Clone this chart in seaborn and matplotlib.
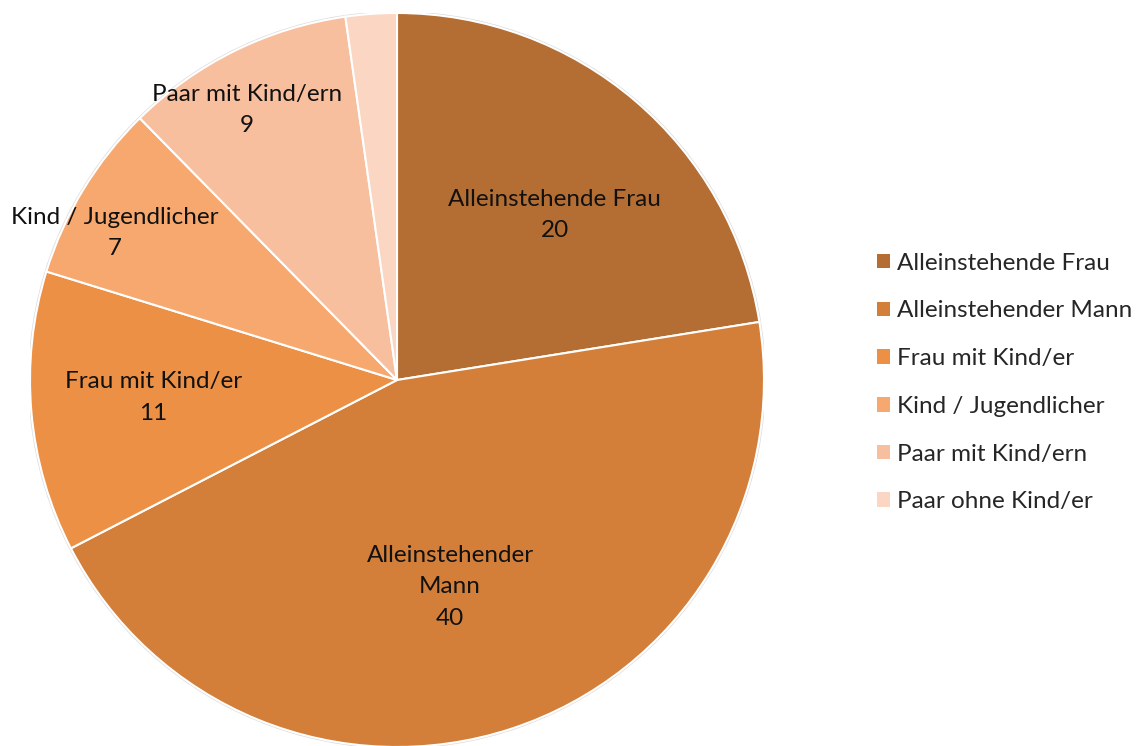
import numpy as np
import matplotlib
matplotlib.use("Agg")
import matplotlib.pyplot as plt
import seaborn as sns
from matplotlib.patches import Patch, Circle

sns.set_theme(style="white")
plt.rcParams['font.family'] = ['Lato', 'DejaVu Sans']

categories = ["Alleinstehende Frau", "Alleinstehender Mann", "Frau mit Kind/er",
              "Kind / Jugendlicher", "Paar mit Kind/ern", "Paar ohne Kind/er"]
values = [20, 40, 11, 7, 9, 2]
slice_labels = ["Alleinstehende Frau", "Alleinstehender\nMann", "Frau mit Kind/er",
                "Kind / Jugendlicher", "Paar mit Kind/ern", None]
colors = ["#B46E34", "#D37F3A", "#EC9046", "#F6A86E", "#F8BF9E", "#FAD6C3"]
label_radius = [0.622, 0.582, 0.666, 0.867, 0.842, 0.0]
label_angle_nudge = [-3.3, -3.8, -1.0, 3.8, 2.8, 0.0]

W, H = 1140, 746
fig = plt.figure(figsize=(W / 100, H / 100), dpi=100)
cx, cy, r = 397, 366, 367
ax = fig.add_axes([(cx - r) / W, (cy - r) / H, 2 * r / W, 2 * r / H])

ax.add_patch(Circle((0, 0), 1.0, facecolor='none', edgecolor='#dcdcdc',
                    linewidth=2.5, zorder=0))
wedges, _ = ax.pie(values, colors=colors, startangle=90, counterclock=False,
                   radius=1, wedgeprops=dict(edgecolor='white', linewidth=1.5))
ax.set_xlim(-1, 1)
ax.set_ylim(-1, 1)
ax.set_aspect('equal')
ax.axis('off')

for w, lab, val, lr, nd in zip(wedges, slice_labels, values, label_radius, label_angle_nudge):
    if lab is None:
        continue
    ang = np.deg2rad((w.theta1 + w.theta2) / 2 + nd)
    x, y = lr * np.cos(ang), lr * np.sin(ang)
    ax.text(x, y, f"{lab}\n{val}", ha='center', va='center', fontsize=17.5,
            color='#111111', linespacing=1.62)

handles = [Patch(facecolor=c, edgecolor='none') for c in colors]
fig.legend(handles, categories, loc='upper left', bbox_to_anchor=(867 / W, 1 - 243 / H),
           frameon=False, fontsize=17.5, handlelength=0.55, handleheight=0.55,
           handletextpad=0.3, labelspacing=1.1, borderaxespad=0)

fig.savefig("out.png", dpi=100)
